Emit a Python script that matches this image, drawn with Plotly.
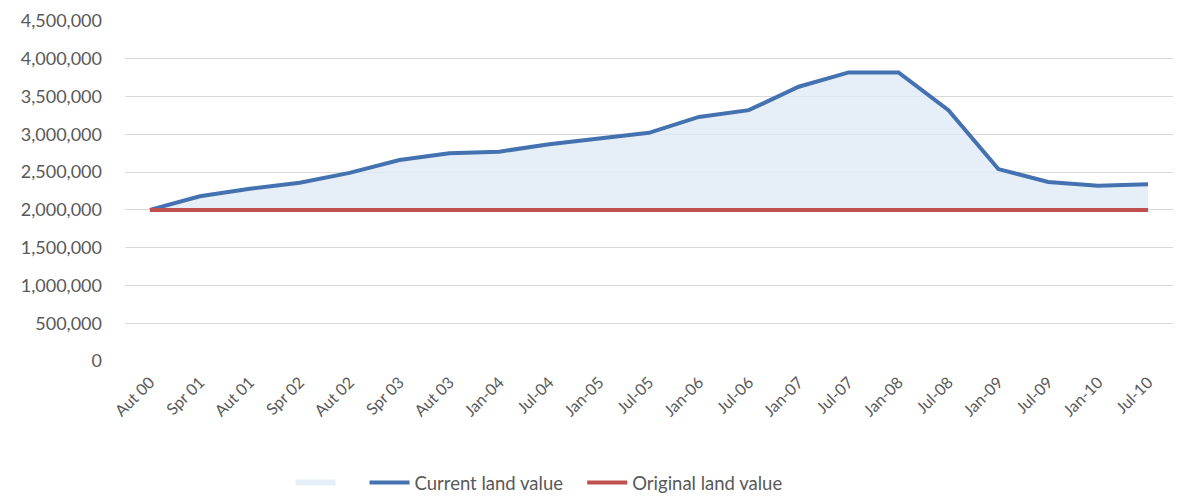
import plotly.graph_objects as go

categories = ["Aut 00", "Spr 01", "Aut 01", "Spr 02", "Aut 02", "Spr 03", "Aut 03",
              "Jan-04", "Jul-04", "Jan-05", "Jul-05", "Jan-06", "Jul-06", "Jan-07",
              "Jul-07", "Jan-08", "Jul-08", "Jan-09", "Jul-09", "Jan-10", "Jul-10"]
current_value = [2000000, 2180000, 2280000, 2360000, 2490000, 2660000, 2750000,
                 2770000, 2870000, 2950000, 3020000, 3230000, 3320000, 3630000,
                 3820000, 3820000, 3320000, 2540000, 2370000, 2320000, 2340000]
original_value = [2000000] * len(categories)
y_ticks = [0, 500000, 1000000, 1500000, 2000000, 2500000, 3000000, 3500000, 4000000, 4500000]

FONT = "Lato, 'Open Sans', sans-serif"
BLUE = "#4472b0"
RED = "#c0504d"
FILL = "rgba(222,234,246,0.75)"
NB = "\u00a0"

fig = go.Figure()
fig.add_trace(go.Scatter(x=categories, y=original_value, mode="lines",
                         line=dict(color=RED, width=4), name="Original land value",
                         legendrank=3))
fig.add_trace(go.Scatter(x=categories, y=current_value, mode="none", fill="tonexty",
                         fillcolor=FILL, name=NB * 4, legendrank=1))
fig.add_trace(go.Scatter(x=categories, y=current_value, mode="lines",
                         line=dict(color=BLUE, width=4), name="Current land value" + NB * 3,
                         legendrank=2))
fig.add_trace(go.Scatter(x=categories, y=original_value, mode="lines",
                         line=dict(color=RED, width=4), showlegend=False, hoverinfo="skip"))

fig.update_layout(
    width=1184, height=497,
    margin=dict(l=125, r=11, t=21, b=136),
    paper_bgcolor="white", plot_bgcolor="white",
    font=dict(family=FONT, color="#595959", size=16),
    legend=dict(orientation="h", x=0.158, xanchor="left",
                yref="container", y=0.028, yanchor="middle",
                font=dict(size=18.5, color="#595959"), traceorder="normal",
                itemwidth=40),
    showlegend=True,
)
fig.update_xaxes(type="category", range=[-0.5, 20.5], tickangle=-45, showgrid=False,
                 showline=False, ticks="", automargin=False, ticklabelstandoff=8,
                 tickfont=dict(size=16, color="#595959"))
fig.update_yaxes(range=[0, 4500000], tickvals=y_ticks, tickformat=",d",
                 showgrid=True, gridcolor="#d9d9d9", gridwidth=1, zeroline=False,
                 ticks="", automargin=False, ticklabelstandoff=22,
                 tickfont=dict(size=18, color="#595959"))

fig.write_html("out.html")
